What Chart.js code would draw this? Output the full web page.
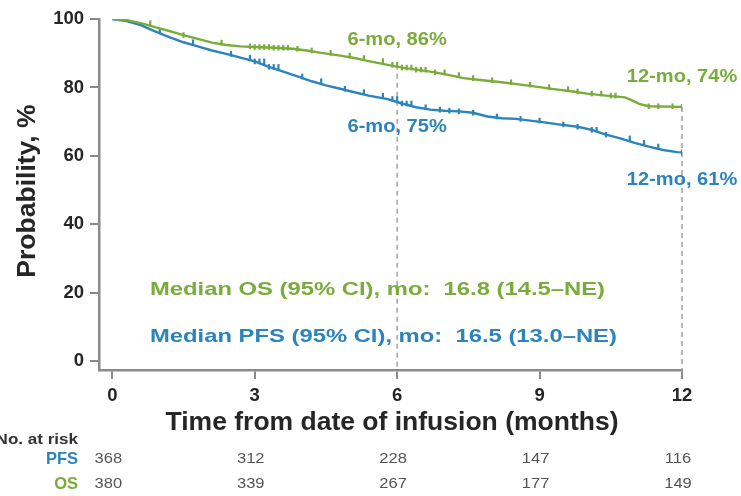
<!DOCTYPE html>
<html>
<head>
<meta charset="utf-8">
<script src="https://cdn.jsdelivr.net/npm/chart.js@4.4.1/dist/chart.umd.min.js"></script>
<style>
  html, body { margin: 0; padding: 0; background: #ffffff; }
  #wrap { width: 741px; height: 496px; }
</style>
</head>
<body>
<div id="wrap"><canvas id="km" width="741" height="496"></canvas></div>
<script>
// Kaplan–Meier estimates (time in months, survival probability in %)
const osTimes = [0, 0.3, 0.6, 0.9, 1.2, 1.5, 1.8, 2.1, 2.4, 2.7, 3.0, 3.4, 3.8, 4.1, 4.4, 4.8, 5.1, 5.4, 5.8, 6.1, 6.4, 6.8, 7.1, 7.4, 7.8, 8.2, 8.6, 9.0, 9.3, 9.7, 10.0, 10.4, 10.8, 10.95, 11.1, 11.3, 12.0];
const osSurv  = [100, 99.7, 98.8, 97.6, 96.5, 95.3, 94.2, 93.1, 92.4, 92.0, 91.8, 91.6, 91.3, 90.8, 90.1, 89.3, 88.6, 87.7, 86.6, 85.8, 85.2, 84.4, 83.6, 82.7, 82.1, 81.5, 80.8, 80.1, 79.5, 78.8, 78.2, 77.6, 77.1, 76.2, 75.2, 74.5, 74.3];

const pfsTimes = [0, 0.3, 0.6, 0.9, 1.2, 1.5, 1.8, 2.1, 2.4, 2.7, 3.0, 3.3, 3.6, 3.9, 4.2, 4.5, 4.8, 5.1, 5.4, 5.8, 6.1, 6.4, 6.7, 7.0, 7.3, 7.6, 7.9, 8.2, 8.5, 8.8, 9.1, 9.4, 9.8, 10.1, 10.4, 10.7, 11.0, 11.3, 11.6, 11.9, 12.0];
const pfsSurv  = [100, 99.4, 98.2, 96.4, 94.7, 93.2, 92.0, 90.8, 89.8, 88.7, 87.6, 86.0, 84.6, 83.2, 81.8, 80.6, 79.6, 78.6, 77.6, 76.6, 75.3, 74.2, 73.5, 73.2, 73.0, 72.6, 71.5, 71.0, 70.8, 70.3, 69.8, 69.2, 68.5, 67.6, 66.2, 65.1, 63.8, 62.7, 61.7, 61.1, 61.0];

// Censoring times (months)
const osCensor  = [0.8, 1.5, 2.3, 2.9, 3.0, 3.1, 3.2, 3.3, 3.4, 3.5, 3.6, 3.7, 3.9, 4.2, 4.6, 5.0, 5.3, 5.7, 5.9, 6.0, 6.1, 6.2, 6.3, 6.4, 6.5, 6.6, 6.8, 7.0, 7.3, 7.6, 8.0, 8.4, 8.8, 9.2, 9.6, 9.8, 10.1, 10.3, 10.5, 10.6, 11.3, 11.5, 11.8, 12.0];
const pfsCensor = [1.0, 1.7, 2.5, 2.9, 3.0, 3.1, 3.2, 3.3, 3.4, 3.5, 4.0, 4.4, 4.9, 5.3, 5.7, 5.9, 6.0, 6.1, 6.2, 6.3, 6.6, 6.9, 7.1, 7.3, 7.6, 8.1, 8.6, 9.0, 9.5, 9.8, 10.1, 10.2, 10.4, 10.9, 11.2, 11.5, 12.0];

// Axis ticks and annotation time points
const xTickValues = [0, 3, 6, 9, 12];
const yTickValues = [0, 20, 40, 60, 80, 100];
const landmarkMonths = [6, 12];
const osLandmarkLabels  = ['6-mo, 86%', '12-mo, 74%'];
const pfsLandmarkLabels = ['6-mo, 75%', '12-mo, 61%'];

// Number at risk table
const riskMonths = [0, 3, 6, 9, 12];
const pfsAtRisk = [368, 312, 228, 147, 116];
const osAtRisk  = [380, 339, 267, 177, 149];

const osMedianText  = 'Median OS (95% CI), mo:  16.8 (14.5\u2013NE)';
const pfsMedianText = 'Median PFS (95% CI), mo:  16.5 (13.0\u2013NE)';

const GREEN = '#79ac3a';
const BLUE = '#2b84bb';
const FONT = '"Liberation Sans", Arial, Helvetica, sans-serif';

// Step-function lookup for a KM curve
function survAt(times, surv, t) {
  let v = surv[0];
  for (let i = 0; i < times.length; i++) {
    if (times[i] <= t) v = surv[i]; else break;
  }
  return v;
}

function drawText(ctx, text, x, y, opts) {
  ctx.save();
  ctx.font = opts.font;
  ctx.fillStyle = opts.color;
  ctx.textAlign = opts.align || 'left';
  ctx.textBaseline = 'middle';
  ctx.translate(x, y);
  if (opts.rotate) ctx.rotate(opts.rotate);
  ctx.scale(opts.sx || 1, 1);
  ctx.fillText(text, 0, 0);
  ctx.restore();
}

const annotations = {
  id: 'annotations',
  beforeDatasetsDraw(chart) {
    const { ctx, scales: { x, y }, chartArea } = chart;
    ctx.save();
    ctx.strokeStyle = '#a3a3a3';
    ctx.lineWidth = 1.5;
    ctx.setLineDash([5, 4]);
    landmarkMonths.forEach(m => {
      const px = x.getPixelForValue(m);
      ctx.beginPath();
      ctx.moveTo(px, y.getPixelForValue(survAt(osTimes, osSurv, m)));
      ctx.lineTo(px, chartArea.bottom);
      ctx.stroke();
    });
    ctx.restore();
  },
  afterDraw(chart) {
    const { ctx, scales: { x, y } } = chart;
    const bold = s => `bold ${s}px ${FONT}`;

    // Landmark labels, placed relative to each curve's value at the landmark
    const osOff = [-25, -30];
    const pfsOff = [28, 27];
    landmarkMonths.forEach((m, i) => {
      const px = x.getPixelForValue(m);
      drawText(ctx, osLandmarkLabels[i], px, y.getPixelForValue(survAt(osTimes, osSurv, m)) + osOff[i],
        { font: bold(18.6), color: GREEN, align: 'center', sx: 1.08 });
      drawText(ctx, pfsLandmarkLabels[i], px, y.getPixelForValue(survAt(pfsTimes, pfsSurv, m)) + pfsOff[i],
        { font: bold(18.6), color: BLUE, align: 'center', sx: 1.08 });
    });

    // Medians
    drawText(ctx, osMedianText, 150, 290, { font: bold(18.6), color: GREEN, sx: 1.28 });
    drawText(ctx, pfsMedianText, 150, 337, { font: bold(18.6), color: BLUE, sx: 1.28 });

    // Axis titles
    drawText(ctx, 'Probability, %', 28, 191, { font: bold(26.5), color: '#262626', align: 'center', rotate: -Math.PI / 2 });
    drawText(ctx, 'Time from date of infusion (months)', 392, 423, { font: bold(26.5), color: '#262626', align: 'center' });

    // Number at risk
    drawText(ctx, 'No. at risk', 78, 440, { font: bold(15.5), color: '#333333', align: 'right', sx: 1.1 });
    drawText(ctx, 'PFS', 78, 459, { font: bold(16.5), color: BLUE, align: 'right' });
    drawText(ctx, 'OS', 78, 484, { font: bold(16.5), color: GREEN, align: 'right' });
    riskMonths.forEach((m, i) => {
      const px = x.getPixelForValue(m) - 4;
      drawText(ctx, String(pfsAtRisk[i]), px, 459, { font: `14px ${FONT}`, color: '#555555', align: 'center', sx: 1.18 });
      drawText(ctx, String(osAtRisk[i]), px, 484, { font: `14px ${FONT}`, color: '#555555', align: 'center', sx: 1.18 });
    });
  }
};

const toXY = (ts, vs) => ts.map((t, i) => ({ x: t, y: vs[i] }));
const censorXY = (cs, ts, vs) => cs.map(t => ({ x: t, y: survAt(ts, vs, t) }));

new Chart(document.getElementById('km'), {
  type: 'line',
  data: {
    datasets: [
      { label: 'OS', data: toXY(osTimes, osSurv), borderColor: GREEN, borderWidth: 2.4, pointRadius: 0, fill: false, tension: 0 },
      { label: 'PFS', data: toXY(pfsTimes, pfsSurv), borderColor: BLUE, borderWidth: 2.4, pointRadius: 0, fill: false, tension: 0 },
      { label: 'OS censored', data: censorXY(osCensor, osTimes, osSurv), showLine: false, pointStyle: 'line', rotation: 90, pointRadius: 2.8, borderColor: GREEN, pointBorderWidth: 2.2 },
      { label: 'PFS censored', data: censorXY(pfsCensor, pfsTimes, pfsSurv), showLine: false, pointStyle: 'line', rotation: 90, pointRadius: 2.8, borderColor: BLUE, pointBorderWidth: 2.2 }
    ]
  },
  options: {
    responsive: false,
    animation: false,
    events: [],
    layout: { padding: { top: 19, right: 59, left: 0, bottom: 0 } },
    plugins: { legend: { display: false }, tooltip: { enabled: false } },
    scales: {
      x: {
        type: 'linear',
        min: -0.28,
        max: 12,
        afterBuildTicks: s => { s.ticks = xTickValues.map(v => ({ value: v })); },
        afterFit: s => { s.height = 126; },
        border: { color: '#8a8a8a', width: 2.5 },
        grid: { drawOnChartArea: false, drawTicks: true, tickLength: 9, color: '#8a8a8a', lineWidth: 2 },
        ticks: { font: { family: FONT, size: 18.5, weight: 'bold' }, color: '#262626', padding: 6, maxRotation: 0 }
      },
      y: {
        min: -2.6,
        max: 100,
        afterBuildTicks: s => { s.ticks = yTickValues.map(v => ({ value: v })); },
        afterFit: s => { s.width = 99; },
        border: { color: '#8a8a8a', width: 2.5 },
        grid: { drawOnChartArea: false, drawTicks: true, tickLength: 9, color: '#8a8a8a', lineWidth: 2 },
        ticks: { font: { family: FONT, size: 18.5, weight: 'bold' }, color: '#262626', padding: 6 }
      }
    }
  },
  plugins: [annotations]
});
</script>
</body>
</html>
